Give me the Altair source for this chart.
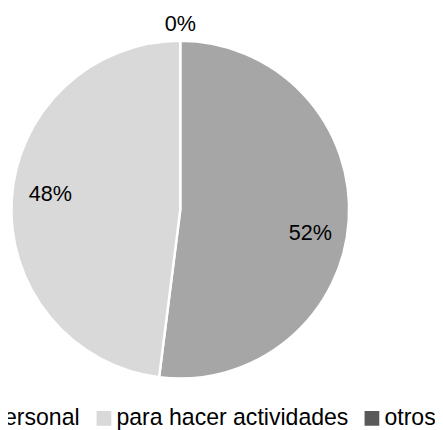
import altair as alt
import pandas as pd

categories = ["otros", "uso personal", "para hacer actividades"]
values = [0, 52, 48]
order = [0, 1, 2]
legend_order = ["uso personal", "para hacer actividades", "otros"]
legend_colors = ["#a6a6a6", "#d9d9d9", "#595959"]

df = pd.DataFrame({"cat": categories, "value": values, "ord": order})

CX, CY = 175.5, 201.5
theta_scale = alt.Scale(domain=[0, 100])

color = alt.Color(
    "cat:N",
    scale=alt.Scale(domain=legend_order, range=legend_colors),
    legend=alt.Legend(
        title=None,
        orient="none",
        direction="horizontal",
        legendX=-86,
        legendY=402,
        symbolType="square",
        symbolSize=225,
        symbolStrokeWidth=0,
        labelFont="Liberation Sans",
        labelFontSize=23.5,
        labelColor="#000000",
        labelOffset=1,
        labelLimit=500,
        columnPadding=12,
    ),
)

base = alt.Chart(df)

arcs = base.mark_arc(outerRadius=172, strokeWidth=2.5).encode(
    theta=alt.Theta("value:Q", stack=True, scale=theta_scale),
    color=color,
    order=alt.Order("ord:Q"),
    stroke=alt.condition(alt.datum.value == 0, alt.value("#404040"), alt.value("white")),
    x=alt.value(CX),
    y=alt.value(CY),
)

labels_src = base.transform_window(
    cum="sum(value)", sort=[alt.SortField("ord")], frame=[None, 0]
).transform_calculate(
    mid="datum.value == 0 ? 0 : datum.cum - datum.value / 2 + 1.4",
    label="datum.value + '%'",
)

labels_in = labels_src.transform_filter("datum.value > 0").mark_text(
    radius=134, dy=4, font="Liberation Sans", fontSize=22, color="#000000",
    align="center", baseline="middle",
).encode(
    theta=alt.Theta("mid:Q", stack=False, scale=theta_scale),
    text="label:N",
    x=alt.value(CX),
    y=alt.value(CY),
)

labels_out = labels_src.transform_filter("datum.value == 0").mark_text(
    radius=189, font="Liberation Sans", fontSize=22, color="#000000",
    align="center", baseline="middle",
).encode(
    theta=alt.Theta("mid:Q", stack=False, scale=theta_scale),
    text="label:N",
    x=alt.value(CX),
    y=alt.value(CY),
)

chart = alt.layer(arcs, labels_in, labels_out).properties(
    width=435,
    height=422,
    autosize=alt.AutoSizeParams(type="none"),
    padding=0,
).configure_view(stroke=None)

chart.save("out.html", embed_options={"renderer": "svg", "actions": False})
